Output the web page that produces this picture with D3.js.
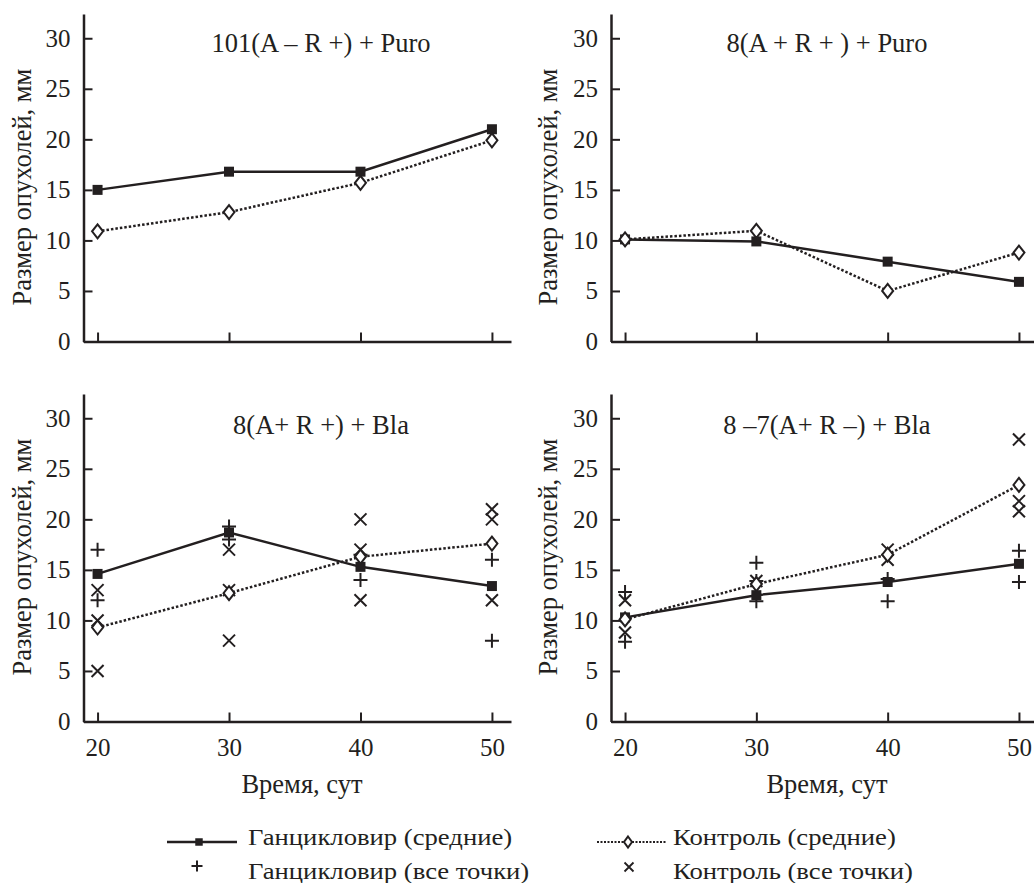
<!DOCTYPE html>
<meta charset="utf-8">
<style>
  body { margin: 0; background: #fff; }
</style>
<body>
<script src="https://cdn.jsdelivr.net/npm/d3@7"></script>
<script>

  // days of measurement
  var days = [20, 30, 40, 50];
  var yTicks = [0, 5, 10, 15, 20, 25, 30];

  var titles = ["101(A – R +) + Puro", "8(A + R + ) + Puro", "8(A+ R +) + Bla", "8 –7(A+ R –) + Bla"];

  // means (Ганцикловир / Контроль)
  var tlGanc = [15, 16.8, 16.8, 21];
  var tlCtrl = [10.9, 12.8, 15.7, 19.9];
  var trGanc = [10.1, 9.9, 7.9, 5.9];
  var trCtrl = [10.1, 10.95, 5.0, 8.8];
  var blGanc = [14.6, 18.7, 15.3, 13.4];
  var blCtrl = [9.3, 12.7, 16.3, 17.6];
  var brGanc = [10.3, 12.5, 13.8, 15.6];
  var brCtrl = [10.1, 13.6, 16.5, 23.4];

  // all points, [day, size]
  var blGancPts = [[20, 17], [20, 12], [30, 19.3], [30, 18], [40, 14], [40, 16.5], [50, 16], [50, 8]];
  var blCtrlPts = [[20, 13], [20, 10], [20, 5], [30, 17], [30, 8], [30, 13], [40, 20], [40, 17], [40, 12], [50, 21], [50, 20], [50, 12]];
  var brGancPts = [[20, 12.8], [20, 7.9], [30, 15.7], [30, 11.9], [30, 13.9], [40, 14.1], [40, 11.9], [50, 16.9], [50, 13.8]];
  var brCtrlPts = [[20, 12], [20, 8.8], [30, 13.9], [40, 17], [40, 16], [50, 27.9], [50, 21.8], [50, 20.8]];

  var legendLabels = ["Ганцикловир (средние)", "Контроль (средние)", "Ганцикловир (все точки)", "Контроль (все точки)"];

  var panels = [
    { title: titles[0], ganc: tlGanc, ctrl: tlCtrl, gancPts: [], ctrlPts: [], col: 0, row: 0 },
    { title: titles[1], ganc: trGanc, ctrl: trCtrl, gancPts: [], ctrlPts: [], col: 1, row: 0 },
    { title: titles[2], ganc: blGanc, ctrl: blCtrl, gancPts: blGancPts, ctrlPts: blCtrlPts, col: 0, row: 1 },
    { title: titles[3], ganc: brGanc, ctrl: brCtrl, gancPts: brGancPts, ctrlPts: brCtrlPts, col: 1, row: 1 }
  ];

  var width = 1034, height = 883;
  var ink = "#231f20";
  var serif = "Liberation Serif, Times New Roman, serif";

  // column / row geometry
  var cols = [{ x0: 83.5, x1: 511, tx: 321, ly: 22, xl: 302 },
              { x0: 611, x1: 1038, tx: 827, ly: 548, xl: 827 }];
  var rows = [{ y0: 341.5, y1: 14, ty: 52, lyc: 187, ticks: false },
              { y0: 721.5, y1: 394, ty: 434, lyc: 557, ticks: true }];

  var svg = d3.select("body").append("svg")
    .attr("width", width)
    .attr("height", height)
    .attr("font-family", serif);

  var square = d3.symbol().type(d3.symbolSquare).size(100);

  function diamond(g, cx, cy, w, h) {
    g.append("path")
      .attr("d", "M" + cx + "," + (cy - h / 2) + "L" + (cx + w / 2) + "," + cy + "L" + cx + "," + (cy + h / 2) + "L" + (cx - w / 2) + "," + cy + "Z")
      .attr("fill", "#fff")
      .attr("stroke", ink)
      .attr("stroke-width", 2);
  }

  function plus(g, cx, cy, s, sw) {
    g.append("path")
      .attr("d", "M" + (cx - s / 2) + "," + cy + "H" + (cx + s / 2) + "M" + cx + "," + (cy - s / 2) + "V" + (cy + s / 2))
      .attr("stroke", ink).attr("stroke-width", sw).attr("fill", "none");
  }

  function cross(g, cx, cy, s, sw) {
    g.append("path")
      .attr("d", "M" + (cx - s / 2) + "," + (cy - s / 2) + "L" + (cx + s / 2) + "," + (cy + s / 2) +
        "M" + (cx - s / 2) + "," + (cy + s / 2) + "L" + (cx + s / 2) + "," + (cy - s / 2))
      .attr("stroke", ink).attr("stroke-width", sw).attr("fill", "none");
  }

  function styleAxis(sel) {
    sel.attr("font-family", serif).attr("font-size", 25);
    sel.select(".domain").attr("stroke", ink).attr("stroke-width", 2.5);
    sel.selectAll(".tick line").attr("stroke", ink).attr("stroke-width", 2);
    sel.selectAll(".tick text")
      .attr("fill", ink)
      .attr("font-family", serif)
      .attr("font-size", 25);
  }

  panels.forEach(function (p) {
    var c = cols[p.col], r = rows[p.row];

    var x = d3.scaleLinear().domain([18.93, 51.45]).range([c.x0, c.x1]);
    var y = d3.scaleLinear().domain([0, 32.4]).range([r.y0, r.y1]);

    var g = svg.append("g");

    var xAxis = d3.axisBottom(x)
      .tickValues(days)
      .tickSize(-9)
      .tickSizeOuter(0)
      .tickPadding(17);
    if (!r.ticks) xAxis.tickFormat("");

    g.append("g")
      .attr("transform", "translate(0," + r.y0 + ")")
      .call(xAxis)
      .call(styleAxis);

    g.append("g")
      .attr("transform", "translate(" + c.x0 + ",0)")
      .call(d3.axisLeft(y).tickValues(yTicks).tickSize(-9).tickSizeOuter(0).tickPadding(13))
      .call(styleAxis);

    // title
    g.append("text")
      .attr("x", c.tx)
      .attr("y", r.ty)
      .attr("text-anchor", "middle")
      .attr("fill", ink)
      .attr("font-family", serif)
      .attr("font-size", 26.5)
      .text(p.title);

    // y label
    g.append("text")
      .attr("transform", "translate(" + c.ly + "," + r.lyc + ") rotate(-90)")
      .attr("text-anchor", "middle")
      .attr("dy", "0.35em")
      .attr("fill", ink)
      .attr("font-family", serif)
      .attr("font-size", 26.5)
      .text("Размер опухолей, мм");

    if (r.ticks) {
      g.append("text")
        .attr("x", c.xl)
        .attr("y", 793)
        .attr("text-anchor", "middle")
        .attr("fill", ink)
        .attr("font-family", serif)
        .attr("font-size", 26.5)
        .text("Время, сут");
    }

    // individual points
    p.gancPts.forEach(function (d) { plus(g, x(d[0]), y(d[1]), 14, 2); });
    p.ctrlPts.forEach(function (d) { cross(g, x(d[0]), y(d[1]), 12, 2); });

    var line = d3.line()
      .x(function (d, i) { return x(days[i]); })
      .y(function (d) { return y(d); });

    g.append("path")
      .datum(p.ctrl)
      .attr("d", line)
      .attr("fill", "none")
      .attr("stroke", ink)
      .attr("stroke-width", 2.5)
      .attr("stroke-dasharray", "2.5,2");

    g.append("path")
      .datum(p.ganc)
      .attr("d", line)
      .attr("fill", "none")
      .attr("stroke", ink)
      .attr("stroke-width", 2.5);

    p.ganc.forEach(function (d, i) {
      g.append("path")
        .attr("d", square)
        .attr("transform", "translate(" + x(days[i]) + "," + y(d) + ")")
        .attr("fill", ink);
    });

    p.ctrl.forEach(function (d, i) {
      diamond(g, x(days[i]), y(d), 11, 14);
    });
  });

  // legend
  var leg = svg.append("g");

  leg.append("line")
    .attr("x1", 167).attr("x2", 237).attr("y1", 842).attr("y2", 842)
    .attr("stroke", ink).attr("stroke-width", 2.5);
  leg.append("path")
    .attr("d", d3.symbol().type(d3.symbolSquare).size(56))
    .attr("transform", "translate(199,842)")
    .attr("fill", ink);

  leg.append("line")
    .attr("x1", 597).attr("x2", 667).attr("y1", 842).attr("y2", 842)
    .attr("stroke", ink).attr("stroke-width", 2).attr("stroke-dasharray", "2,1.5");
  diamond(leg, 628, 842, 8, 11);

  plus(leg, 197, 866, 11, 2);
  cross(leg, 629, 867, 9, 1.8);

  // legend type is a little wider than the plain face
  var legX = [248, 673, 248, 673];
  var legY = [845, 845, 879, 879];
  leg.selectAll("text")
    .data(legendLabels)
    .enter().append("text")
    .attr("transform", function (d, i) { return "translate(" + legX[i] + "," + legY[i] + ") scale(1.16,1)"; })
    .attr("fill", ink)
    .attr("font-family", serif)
    .attr("font-size", 23)
    .text(function (d) { return d; });

</script>
</body>
